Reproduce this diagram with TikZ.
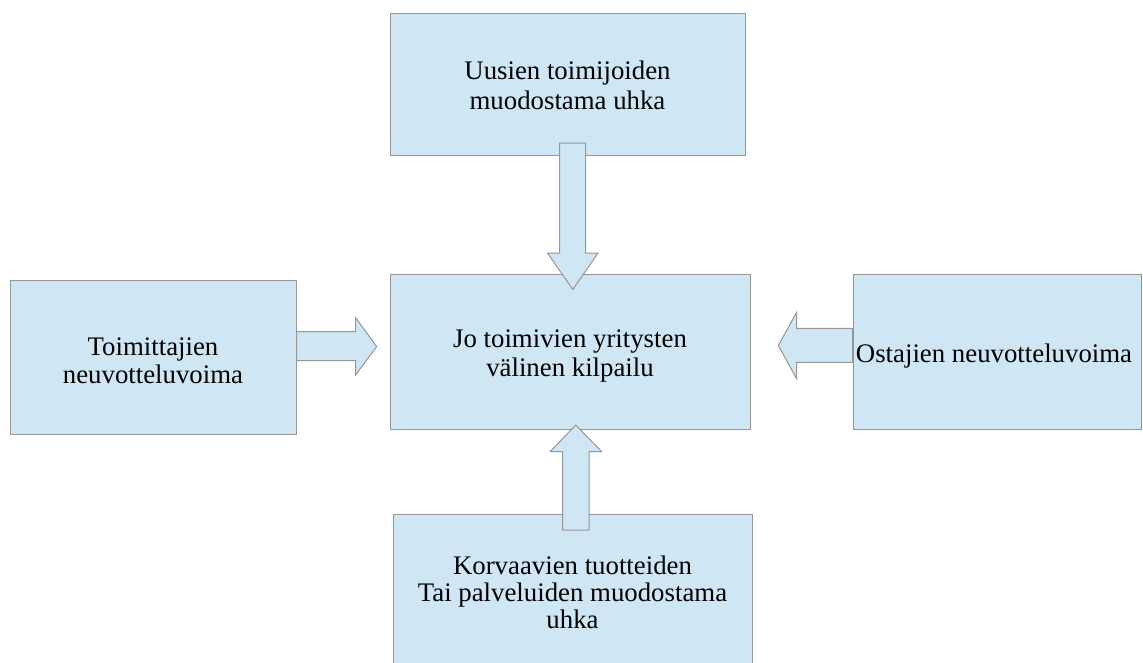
\documentclass[tikz,border=0pt]{standalone}
\usepackage{fontspec}
\setmainfont{Liberation Serif}
\definecolor{boxfill}{RGB}{207,231,245}
\definecolor{boxline}{RGB}{150,150,150}
\begin{document}
\begin{tikzpicture}[x=1pt,y=-1pt,
  box/.style={draw=boxline, fill=boxfill, line width=1pt, inner sep=0pt},
  label text/.style={inner sep=0pt, align=center, font=\fontsize{26.8}{#1}\selectfont},
  label text/.default=30,
  blockarrow/.style={draw=boxline, fill=boxfill, line width=1pt, line join=miter}]
\useasboundingbox (0,0) rectangle (1143,662);
\clip (0,0) rectangle (1143,662);
\fill[white] (0,0) rectangle (1143,662);
% boxes
\node[box, minimum width=355pt, minimum height=142pt] (uhka) at (567.5,84) {};
\node[box, minimum width=360pt, minimum height=155pt] (kilpailu) at (570,351.5) {};
\node[box, minimum width=286pt, minimum height=154pt] (toim) at (153,357) {};
\node[box, minimum width=288pt, minimum height=155pt] (ost) at (997,351.5) {};
\node[box, minimum width=359pt, minimum height=186pt, anchor=north] (korv) at (572.5,514) {};
% texts
\node[label text] (uhkatext) at ([yshift=-1.5pt]uhka.center) {Uusien toimijoiden\\ muodostama uhka};
\node[label text=29.5] (kilptext) at ([yshift=-4.5pt]kilpailu.center) {Jo toimivien yritysten\\ välinen kilpailu};
\node[label text=28] (toimtext) at ([yshift=-4pt]toim.center) {Toimittajien\\ neuvotteluvoima};
\node[label text] (osttext) at ([yshift=-5pt, xshift=-3pt]ost.center) {Ostajien neuvotteluvoima};
\node[label text=27] (korvtext) at (572.5,592) {Korvaavien tuotteiden\\ Tai palveluiden muodostama\\ uhka};
% block arrows
\draw[blockarrow] (559.5,143) -- (585.5,143) -- (585.5,253) -- (598,253) -- (572.8,289.5) -- (547.5,253) -- (559.5,253) -- cycle;
\draw[blockarrow] (toim.east |- 0,331.5) -- (355.5,331.5) -- (355.5,317.5) -- (376.7,346.7) -- (355.5,375) -- (355.5,360.7) -- (toim.east |- 0,360.7) -- cycle;
\draw[blockarrow] (ost.west |- 0,328.3) -- (796.7,328.3) -- (796.7,312.3) -- (778.3,345.5) -- (796.7,379) -- (796.7,362.3) -- (ost.west |- 0,362.3) -- cycle;
\draw[blockarrow] (562.7,530) -- (562.7,451.7) -- (550,451.7) -- (575.7,425) -- (601.7,451.7) -- (589,451.7) -- (589,530) -- cycle;
\end{tikzpicture}
\end{document}
